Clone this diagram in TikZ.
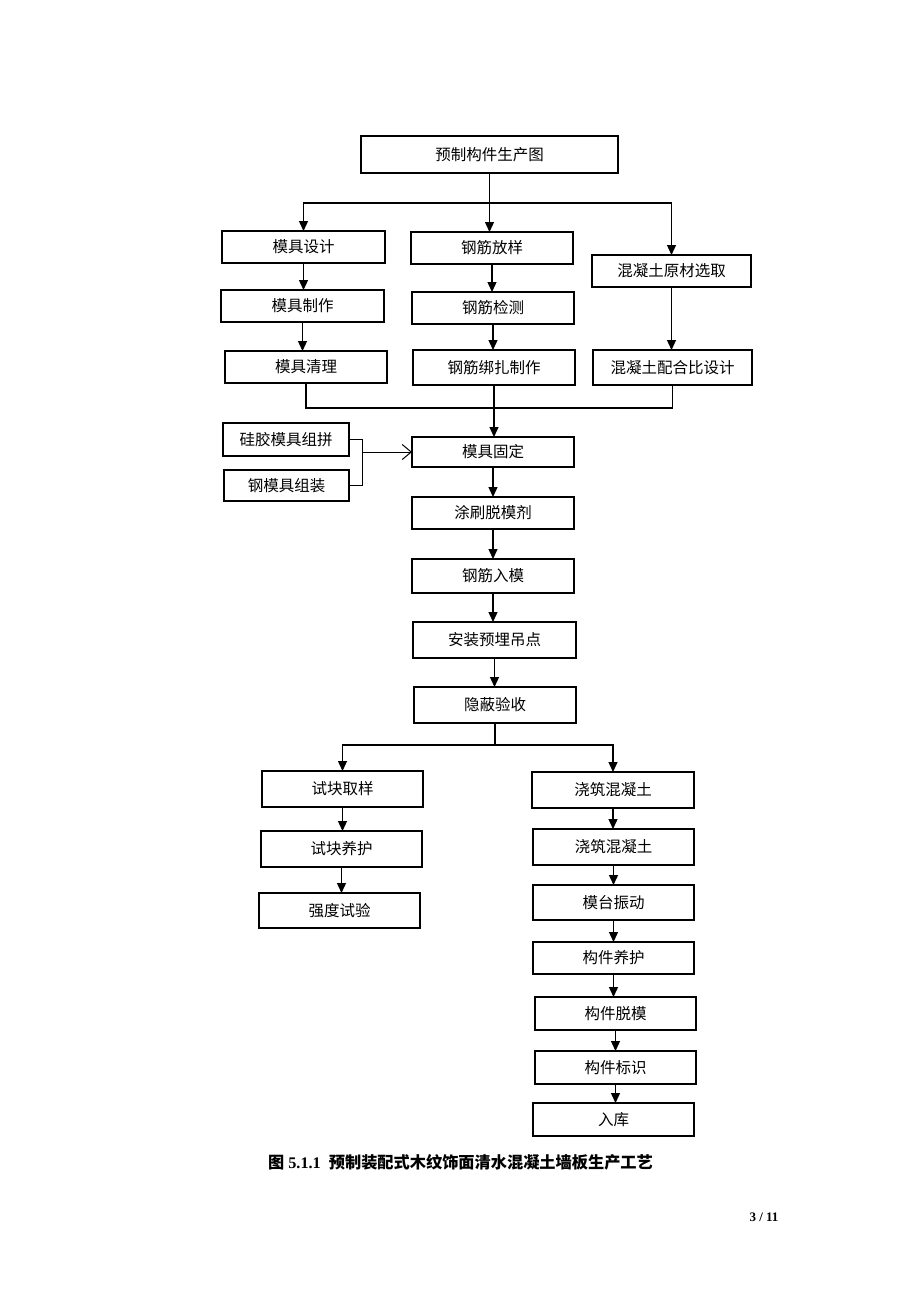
\documentclass[tikz,border=0pt]{standalone}
\usepackage{fontspec}
\setmainfont{Liberation Serif}
\newfontfamily\cjk{Noto Sans CJK SC}
\usetikzlibrary{arrows.meta}
\begin{document}
\begin{tikzpicture}[x=1pt,y=-1pt,
  box/.style={draw,line width=1.1pt,inner sep=0pt,outer sep=0pt,font=\cjk\fontsize{15.5}{18}\selectfont},
  ln/.style={line width=1.3pt},
  arr/.style={ln,-{Triangle[length=10pt,width=9pt]}},
  oarr/.style={line width=1pt,-{Straight Barb[length=9pt,width=15pt,line width=1pt]}}]
\fill[white] (0,0) rectangle (920,1302);
\useasboundingbox (0,0) rectangle (920,1302);
% top
\node[box,minimum width=257pt,minimum height=37pt] (top) at (489.5,154.5) {预制构件生产图};
\node[box,minimum width=163pt,minimum height=32pt] (mjsj) at (303.5,247) {模具设计};
\node[box,minimum width=162pt,minimum height=32pt] (gjfy) at (492,248) {钢筋放样};
\node[box,minimum width=159pt,minimum height=32pt] (hnyc) at (671.5,271) {混凝土原材选取};
\node[box,minimum width=163pt,minimum height=32pt] (mjzz) at (302.5,306) {模具制作};
\node[box,minimum width=162pt,minimum height=32pt] (gjjc) at (493,308) {钢筋检测};
\node[box,minimum width=159pt,minimum height=35pt] (hnph) at (672.5,367.5) {混凝土配合比设计};
\node[box,minimum width=162pt,minimum height=32pt] (mjql) at (306,367) {模具清理};
\node[box,minimum width=162pt,minimum height=35pt] (gjbz) at (494,367.5) {钢筋绑扎制作};
% side
\node[box,minimum width=126pt,minimum height=33pt] (gjmz) at (286,439.5) {硅胶模具组拼};
\node[box,minimum width=125pt,minimum height=31pt] (gmjz) at (286.5,485.5) {钢模具组装};
% centre chain
\node[box,minimum width=162pt,minimum height=30pt] (mjgd) at (493,452) {模具固定};
\node[box,minimum width=162pt,minimum height=32pt] (tstm) at (493,513) {涂刷脱模剂};
\node[box,minimum width=162pt,minimum height=34pt] (gjrm) at (493,576) {钢筋入模};
\node[box,minimum width=163pt,minimum height=36pt] (azyl) at (494.5,640) {安装预埋吊点};
\node[box,minimum width=162pt,minimum height=36pt] (ybys) at (495,705) {隐蔽验收};
% left branch
\node[box,minimum width=161pt,minimum height=36pt] (skqy) at (342.5,789) {试块取样};
\node[box,minimum width=161pt,minimum height=36pt] (skyh) at (341.5,849) {试块养护};
\node[box,minimum width=161pt,minimum height=35pt] (qdsy) at (339.5,910.5) {强度试验};
% right branch
\node[box,minimum width=162pt,minimum height=36pt] (jz1) at (613,790) {浇筑混凝土};
\node[box,minimum width=161pt,minimum height=36pt] (jz2) at (613.5,847) {浇筑混凝土};
\node[box,minimum width=161pt,minimum height=35pt] (mtzd) at (613.5,902.5) {模台振动};
\node[box,minimum width=161pt,minimum height=32pt] (gjyh) at (613.5,958) {构件养护};
\node[box,minimum width=161pt,minimum height=33pt] (gjtm) at (615.5,1013.5) {构件脱模};
\node[box,minimum width=161pt,minimum height=33pt] (gjbs) at (615.5,1067.5) {构件标识};
\node[box,minimum width=161pt,minimum height=33pt] (rk) at (613.5,1119.5) {入库};
% connectors top
\coordinate (j1) at (489.5,203);
\draw[ln] (top.south) -- (j1);
\draw[arr] (j1) -| (mjsj.north);
\draw[arr] (j1) -| (hnyc.north);
\draw[arr] (j1) -- (j1 |- gjfy.north);
\draw[arr] (mjsj.south) -- (mjsj.south |- mjzz.north);
\draw[arr] (mjzz.south) -- (mjzz.south |- mjql.north);
\draw[arr] (gjfy.south) -- (gjfy.south |- gjjc.north);
\draw[arr] (gjjc.south) -- (gjjc.south |- gjbz.north);
\draw[arr] (hnyc.south) -- (hnyc.south |- hnph.north);
% merge
\coordinate (j2) at (494,408);
\draw[ln] (mjql.south) |- (j2);
\draw[ln] (hnph.south) |- (j2);
\draw[ln] (gjbz.south) -- (j2);
\draw[arr] (j2) -- (j2 |- mjgd.north);
% bracket
\coordinate (b1) at (362,452);
\draw[line width=1pt] (gjmz.east) -| (b1);
\draw[line width=1pt] (gmjz.east) -| (b1);
\draw[oarr] (b1) -- (mjgd.west);
% centre chain
\draw[arr] (mjgd.south) -- (mjgd.south |- tstm.north);
\draw[arr] (tstm.south) -- (tstm.south |- gjrm.north);
\draw[arr] (gjrm.south) -- (gjrm.south |- azyl.north);
\draw[arr] (azyl.south) -- (azyl.south |- ybys.north);
% split
\coordinate (j3) at (495,745);
\draw[ln] (ybys.south) -- (j3);
\draw[arr] (j3) -| (skqy.north);
\draw[arr] (j3) -| (jz1.north);
\draw[arr] (skqy.south) -- (skqy.south |- skyh.north);
\draw[arr] (skyh.south) -- (skyh.south |- qdsy.north);
\draw[arr] (jz1.south) -- (jz1.south |- jz2.north);
\draw[arr] (jz2.south) -- (jz2.south |- mtzd.north);
\draw[arr] (mtzd.south) -- (mtzd.south |- gjyh.north);
\draw[arr] (gjyh.south) -- (gjyh.south |- gjtm.north);
\draw[arr] (gjtm.south) -- (gjtm.south |- gjbs.north);
\draw[arr] (gjbs.south) -- (gjbs.south |- rk.north);
% caption
\node[font=\fontsize{16.2}{19}\selectfont\bfseries] (cap) at (460.5,1162) {{\cjk\bfseries 图} 5.1.1\ \ {\cjk\bfseries 预制装配式木纹饰面清水混凝土墙板生产工艺}};
\node[font=\fontsize{13}{15}\selectfont\bfseries,anchor=east] (pg) at (782,1217) {3 / 11};
\end{tikzpicture}
\end{document}
